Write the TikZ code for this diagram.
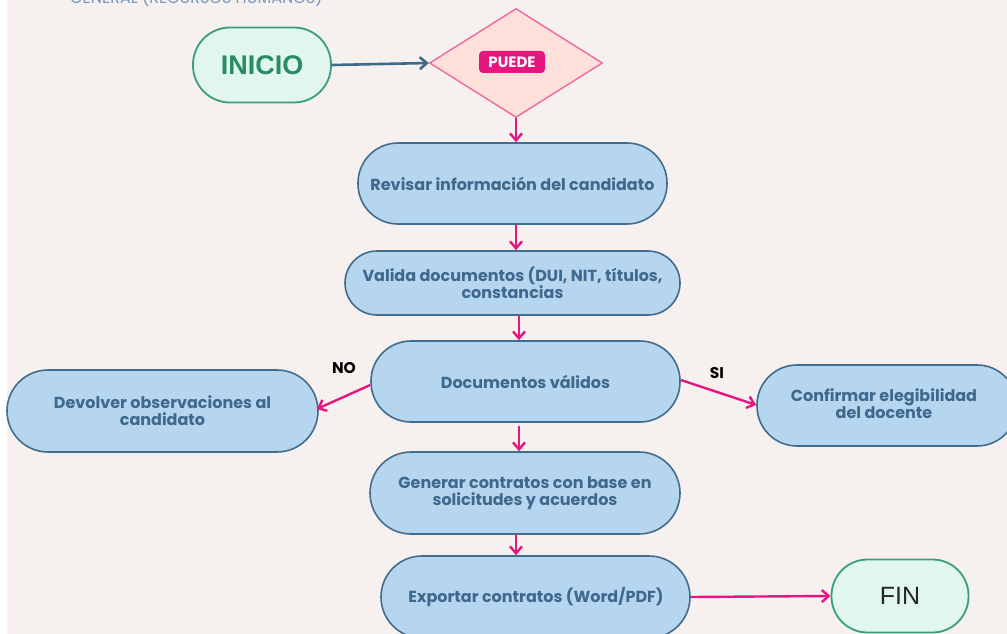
\documentclass[tikz,border=0pt]{standalone}
\usepackage{fontspec}
\setmainfont{Poppins}
\newfontfamily\arialfont{Liberation Sans}
\usetikzlibrary{shapes.geometric,arrows.meta,calc}

\definecolor{bg}{RGB}{246,241,238}
\definecolor{boxfill}{RGB}{182,213,238}
\definecolor{boxline}{RGB}{66,108,142}
\definecolor{boxtext}{RGB}{62,104,140}
\definecolor{termfill}{RGB}{226,246,240}
\definecolor{termline}{RGB}{58,158,120}
\definecolor{termtext}{RGB}{40,140,100}
\definecolor{decfill}{RGB}{253,224,218}
\definecolor{decline}{RGB}{242,104,158}
\definecolor{magenta}{RGB}{230,22,128}
\definecolor{navyarrow}{RGB}{62,106,140}
\definecolor{titleblue}{RGB}{116,152,192}

\tikzset{
  boxfont/.style={font=\bfseries\fontsize{16}{17}\selectfont},
  stepbox/.style={draw=boxline, line width=1.6pt, fill=boxfill, text=boxtext,
    boxfont, align=center, inner sep=0pt},
  term/.style={draw=termline, line width=1.8pt, fill=termfill, inner sep=0pt},
  flow/.style={draw=magenta, line width=2.4pt, -{Straight Barb[length=7pt,width=12pt,line width=2.4pt]}},
  navyflow/.style={draw=navyarrow, line width=2.6pt, -{Straight Barb[length=7pt,width=12pt,line width=2.6pt]}},
  answer/.style={font=\bfseries\fontsize{15.5}{17}\selectfont, text=black},
}

\begin{document}
\begin{tikzpicture}[x=1pt,y=-1pt]
  \useasboundingbox (0,0) rectangle (1007,634);
  \clip (0,0) rectangle (1007,634);
  \fill[white] (0,0) rectangle (1007,634);
  \fill[bg] (7,0) rectangle (1007,634);

  % section heading, running off the top edge
  \node[anchor=base west, text=titleblue, font=\fontsize{16}{18}\selectfont, inner sep=0pt]
    (title) at (70,4) {GENERAL (RECURSOS HUMANOS)};

  % start and end terminals
  \node[term, minimum width=138pt, minimum height=75pt, rounded corners=37pt,
        text=termtext, font=\arialfont\bfseries\fontsize{27}{30}\selectfont]
    (ini) at (262,65) {INICIO};
  \node[term, minimum width=137pt, minimum height=73pt, rounded corners=36pt,
        text=black!85, font=\arialfont\fontsize{25}{28}\selectfont]
    (fin) at (900,596) {FIN};

  % decision
  \node[diamond, draw=decline, line width=1.4pt, fill=decfill, inner sep=0pt,
        minimum width=173pt, minimum height=109pt, aspect=1.587]
    (dec) at (516,63) {};
  \node[fill=magenta, text=white, rounded corners=4pt, minimum width=66pt,
        minimum height=22pt, inner sep=0pt, font=\bfseries\fontsize{15}{16}\selectfont]
    (tag) at (512,62) {PUEDE};

  % process steps
  \node[stepbox, minimum width=309pt, minimum height=81pt, rounded corners=40pt]
    (rev) at (512.5,183.5) {Revisar información del candidato};
  \node[stepbox, minimum width=335pt, minimum height=64pt, rounded corners=32pt]
    (val) at (512.5,283) {Valida documentos (DUI, NIT, títulos,\\constancias};
  \node[stepbox, minimum width=309pt, minimum height=81pt, rounded corners=40pt]
    (doc) at (525.5,381.5) {Documentos válidos};
  \node[stepbox, minimum width=311pt, minimum height=82pt, rounded corners=41pt]
    (dev) at (162.5,411) {Devolver observaciones al\\candidato};
  \node[stepbox, minimum width=260pt, minimum height=81pt, rounded corners=40pt]
    (con) at (887,405.5) {};
  \node[text=boxtext, boxfont, align=center]
    (contxt) at (884,404) {Confirmar elegibilidad\\del docente};
  \node[stepbox, minimum width=310pt, minimum height=82pt, rounded corners=41pt]
    (gen) at (525,493) {Generar contratos con base en\\solicitudes y acuerdos};
  \node[stepbox, minimum width=309pt, minimum height=82pt, rounded corners=41pt]
    (exp) at (535.5,597) {};
  \node[text=boxtext, boxfont]
    (exptxt) at (536,597) {Exportar contratos (Word/PDF)};

  % connectors
  \draw[navyflow] (ini.east) -- (dec.west);
  \draw[flow] (dec.south) -- (dec.south |- rev.north);
  \draw[flow] ($(rev.south)+(3.5,0)$) -- ($(val.north)+(3.5,0)$);
  \draw[flow] ($(val.south)+(6.5,0)$) -- ($(doc.north)+(-6.5,0)$);
  \draw[flow] ($(doc.west)+(0,3.5)$) -- ($(dev.east)+(-2,-2)$);
  \draw[flow] ($(doc.east)+(0,-1.5)$) -- ($(con.west)+(0,-0.5)$);
  \draw[flow] ($(doc.south)+(-6.5,3)$) -- (gen.north -| {$(doc.south)+(-6.5,0)$});
  \draw[flow] ($(gen.south)+(-9,0)$) -- ($(exp.north)+(-19.5,0)$);
  \draw[flow] (exp.east) -- (fin.west);

  % branch answers
  \node[answer] (no) at (344,368) {NO};
  \node[answer] (si) at (717,373) {SI};
\end{tikzpicture}
\end{document}
